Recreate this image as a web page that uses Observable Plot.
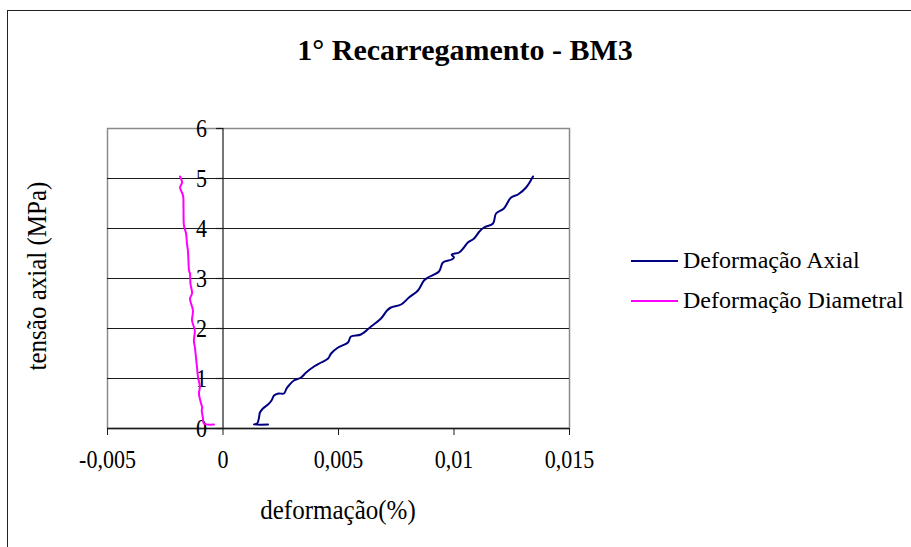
<!DOCTYPE html>
<html>
<head>
<meta charset="utf-8">
<script src="https://cdn.jsdelivr.net/npm/d3@7"></script>
<script src="https://cdn.jsdelivr.net/npm/@observablehq/plot@0.6"></script>
<style>
  html, body { margin: 0; padding: 0; background: #fff; }
  #wrap { position: relative; width: 911px; height: 547px; overflow: hidden; font-family: "Liberation Serif", "Times New Roman", serif; }
  #border { position: absolute; left: 7px; top: 10px; width: 960px; height: 600px; border: 1.5px solid #222; box-sizing: border-box; }
  #title { position: absolute; left: 0; width: 930px; top: 33px; text-align: center; font-weight: bold; font-size: 30px; color: #000; }
  .leg { position: absolute; left: 631px; font-size: 24px; display: flex; align-items: center; white-space: nowrap; }
  .leg span.sw { display: inline-block; width: 47px; height: 0; border-top: 2px solid; margin-right: 5px; }
  #xtitle { position: absolute; left: 238px; width: 200px; top: 496px; text-align: center; font-size: 25px; transform: scaleY(1.1); }
  #ytitle { position: absolute; left: 37px; top: 276px; width: 0; height: 0; }
  #ytitle span { position: absolute; left: 0; top: 0; white-space: nowrap; font-size: 25px; transform: translate(-50%, -50%) rotate(-90deg) scaleY(1.1); }
  #chart { position: absolute; left: 0; top: 0; }
</style>
</head>
<body>
<div id="wrap">
  <div id="border"></div>
  <div id="chart"></div>
  <div id="title">1° Recarregamento - BM3</div>
  <div id="xtitle">deformação(%)</div>
  <div id="ytitle"><span>tensão axial (MPa)</span></div>
  <div id="legend"></div>
</div>
<script>
// ---- data ----
const xTicks = [-0.005, 0, 0.005, 0.01, 0.015];
const yTicks = [0, 1, 2, 3, 4, 5, 6];
const seriesNames = ["Deformação Axial", "Deformação Diametral"];
const seriesColors = ["#000080", "#ff00ff"];

const axialX = [0.00195, 0.00134, 0.00148, 0.00156, 0.00160, 0.00173, 0.00195, 0.00210, 0.00221, 0.00240, 0.00264, 0.00275, 0.00285, 0.00307, 0.00338, 0.00360, 0.00394, 0.00425, 0.00455, 0.00468, 0.00498, 0.00541, 0.00554, 0.00597, 0.00641, 0.00684, 0.00710, 0.00727, 0.00771, 0.00805, 0.00844, 0.00870, 0.00887, 0.00935, 0.00952, 0.00990, 0.01000, 0.00990, 0.01022, 0.01043, 0.01060, 0.01087, 0.01110, 0.01130, 0.01169, 0.01182, 0.01216, 0.01247, 0.01277, 0.01312, 0.01342];
const axialY = [0.08, 0.08, 0.10, 0.22, 0.32, 0.40, 0.48, 0.56, 0.66, 0.70, 0.70, 0.80, 0.86, 0.96, 1.02, 1.12, 1.24, 1.32, 1.40, 1.50, 1.62, 1.72, 1.84, 1.88, 2.04, 2.20, 2.36, 2.42, 2.48, 2.62, 2.76, 2.96, 3.02, 3.14, 3.32, 3.38, 3.42, 3.48, 3.52, 3.62, 3.72, 3.80, 3.94, 4.02, 4.10, 4.30, 4.40, 4.62, 4.68, 4.82, 5.04];

const diamX = [-0.00039, -0.00082, -0.00087, -0.00092, -0.00090, -0.00095, -0.00104, -0.00100, -0.00108, -0.00112, -0.00117, -0.00121, -0.00126, -0.00122, -0.00134, -0.00130, -0.00143, -0.00134, -0.00141, -0.00143, -0.00147, -0.00150, -0.00152, -0.00156, -0.00160, -0.00169, -0.00171, -0.00173, -0.00186, -0.00177, -0.00186];
const diamY = [0.08, 0.10, 0.22, 0.36, 0.42, 0.50, 0.70, 0.84, 1.02, 1.20, 1.42, 1.60, 1.76, 1.96, 2.16, 2.36, 2.60, 2.70, 2.90, 3.10, 3.16, 3.40, 3.56, 3.70, 3.90, 4.06, 4.40, 4.66, 4.82, 4.92, 5.04];

const data = [
  ...axialX.map((x, i) => ({x, y: axialY[i], s: seriesNames[0], i})),
  ...diamX.map((x, i) => ({x, y: diamY[i], s: seriesNames[1], i}))
];

const fmt = d => String(d).replace(".", ",");

const plot = Plot.plot({
  width: 911,
  height: 547,
  marginLeft: 107,
  marginRight: 342,
  marginTop: 128,
  marginBottom: 119,
  style: { fontFamily: "'Liberation Serif', 'Times New Roman', serif", background: "transparent", color: "#000" },
  x: { domain: [-0.005, 0.015], label: null },
  y: { domain: [0, 6], axis: null, label: null },
  color: { domain: seriesNames, range: seriesColors },
  marks: [
    Plot.frame({ stroke: "#8a8a8a", strokeWidth: 1.5 }),
    Plot.ruleY(yTicks.filter(d => d > 0 && d < 6), { stroke: "#1a1a1a", strokeWidth: 1.2 }),
    Plot.ruleY([0], { stroke: "#1a1a1a", strokeWidth: 1.5 }),
    Plot.ruleX([0], { stroke: "#1a1a1a", strokeWidth: 1.2 }),
    Plot.axisX({ ticks: xTicks, tickSize: 7, tickPadding: 15, tickFormat: fmt, fontSize: 22, stroke: "#1a1a1a", label: null }),
    Plot.link(yTicks, { x1: 0, x2: -0.0003, y1: d => d, y2: d => d, stroke: "#1a1a1a", strokeWidth: 1.2 }),
    Plot.text(yTicks, { x: 0, y: d => d, text: d => String(d), dx: -16, textAnchor: "end", fontSize: 22 }),
    Plot.line(data, { x: "x", y: "y", z: "s", stroke: "s", strokeWidth: 2, curve: "catmull-rom" })
  ]
});
document.getElementById("chart").appendChild(plot);

// vertical stretch on tick labels, as in the reference
d3.select(plot).selectAll("g[aria-label='x-axis tick label'] text, g[aria-label='text'] text").each(function() {
  const t = this.getAttribute("transform") || "";
  this.setAttribute("transform", t + " scale(1,1.15)");
});

// legend
const legend = document.getElementById("legend");
seriesNames.forEach((name, i) => {
  const row = document.createElement("div");
  row.className = "leg";
  row.style.top = (247 + i * 40) + "px";
  row.innerHTML = `<span class="sw" style="border-color:${seriesColors[i]}"></span><span>${name}</span>`;
  legend.appendChild(row);
});
</script>
</body>
</html>
